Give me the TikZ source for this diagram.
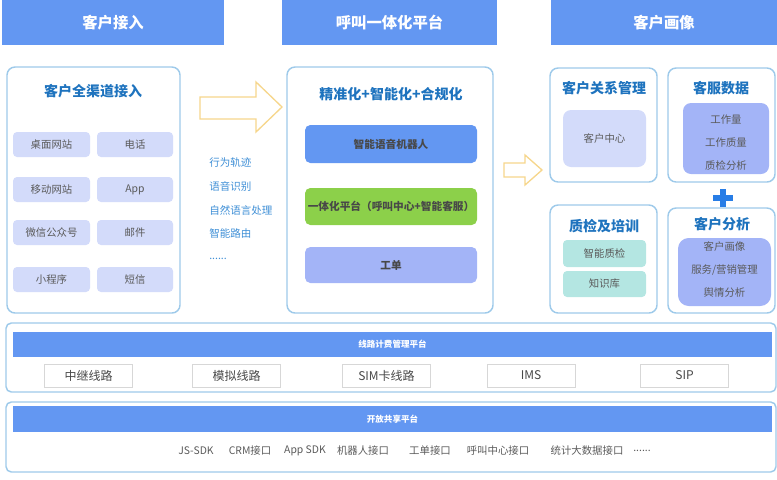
\documentclass[tikz,border=0pt]{standalone}
\usepackage{fontspec}
\setmainfont{Noto Sans CJK SC}
\usepackage{tikz}
\usetikzlibrary{positioning}
\definecolor{HdBlue}{RGB}{99,151,242}
\definecolor{LnBlue}{RGB}{158,202,234}
\definecolor{TtBlue}{RGB}{30,115,190}
\definecolor{LsBlue}{RGB}{63,143,214}
\definecolor{ChLav}{RGB}{211,219,250}
\definecolor{MdLav}{RGB}{163,180,247}
\definecolor{BrGreen}{RGB}{140,208,74}
\definecolor{ChTeal}{RGB}{180,230,226}
\definecolor{ArYel}{RGB}{246,214,140}
\definecolor{TxGray}{RGB}{90,90,90}
\definecolor{ChLine}{RGB}{215,215,215}
\definecolor{PlBlue}{RGB}{40,125,230}

\tikzset{
  wd/.style={minimum width=#1*0.75pt},
  ht/.style={minimum height=#1*0.75pt},
  hdr/.style={fill=HdBlue, text=white, inner sep=0pt,
              font=\fontsize{11.5}{13}\selectfont\bfseries},
  panel/.style={draw=LnBlue, line width=1.1pt, rounded corners=6pt, inner sep=0pt},
  ptitle/.style={text=TtBlue, font=\fontsize{10.5}{12}\selectfont\bfseries},
  chip/.style={rounded corners=3pt, text=TxGray, inner sep=0pt,
               font=\fontsize{7.8}{9}\selectfont},
  bar/.style={rounded corners=4pt, text=TxGray!80!black, inner sep=0pt,
              font=\fontsize{8}{9}\selectfont\bfseries},
  lsttxt/.style={text=LsBlue, anchor=west, inner sep=0pt,
                 font=\fontsize{7.9}{9}\selectfont},
  bandbar/.style={fill=HdBlue, text=white, inner sep=0pt,
                  font=\fontsize{6.4}{8}\selectfont\bfseries},
  linechip/.style={draw=ChLine, fill=white, text=TxGray!80!black, inner sep=0pt,
                   font=\fontsize{9}{10}\selectfont},
  apitxt/.style={text=TxGray, inner sep=0pt, font=\fontsize{7.8}{9}\selectfont},
  blockarrow/.style={draw=ArYel, line width=1pt, line join=miter}
}

\begin{document}
\begin{tikzpicture}[x=0.75pt, y=-0.75pt]
  \useasboundingbox (0,0) rectangle (777,479);

  % ---- Headers ----
  \node[hdr, wd=222, ht=45] (hIn) at (113,22.5) {客户接入};
  \node[hdr, wd=215, ht=45] (hCall) at (389.5,22.5) {呼叫一体化平台};
  \node[hdr, wd=226, ht=45] (hPort) at (664,22.5) {客户画像};

  % ---- Left: channels ----
  \node[panel, wd=173, ht=246] (chan) at (93.5,190) {};
  \node[ptitle] (chanT) at (93,91) {客户全渠道接入};
  \foreach \i/\y/\a/\b in {1/144.5/桌面网站/电话, 2/189.5/移动网站/App,
                           3/232.5/微信公众号/邮件, 4/279.5/小程序/短信} {
    \node[chip, fill=ChLav, wd=77, ht=25] (chA\i) at (51.5,\y) {\a};
    \node[chip, fill=ChLav, wd=76, ht=25] (chB\i) at (135,\y) {\b};
  }

  % big outline arrow
  \draw[blockarrow] (200,97) -- (256,97) -- (256,82) -- (282,107)
        -- (256,132) -- (256,119) -- (200,119) -- cycle;
  % capability list
  \foreach \i/\y/\t in {1/162/行为轨迹, 2/186/语音识别, 3/210/自然语言处理,
                        4/233/智能路由} {
    \node[lsttxt] (cap\i) at (209,\y) {\t};
  }
  \node[lsttxt] (cap5) at (209,259) {......};

  % ---- Middle: platform ----
  \node[panel, wd=206, ht=246] (plat) at (390,190) {};
  \node[ptitle] (platT) at (391,94) {精准化+智能化+合规化};
  \node[bar, fill=HdBlue, wd=172, ht=38] (robot) at (391,144) {智能语音机器人};
  \node[bar, fill=BrGreen, wd=172, ht=37] (unify) at (391,206.5)
        {一体化平台（呼叫中心+智能客服）};
  \node[bar, fill=MdLav, wd=172, ht=36] (ticket) at (391,265) {工单};

  % small outline arrow
  \draw[blockarrow] (504,163) -- (525,163) -- (525,155) -- (542,170)
        -- (525,185) -- (525,177) -- (504,177) -- cycle;

  % ---- Right: portrait ----
  \node[panel, wd=107, ht=114] (crm) at (603.5,125) {};
  \node[ptitle] (crmT) at (604,88) {客户关系管理};
  \node[chip, fill=ChLav, rounded corners=6pt, wd=83, ht=57] (crmC) at (604.5,138.5) {客户中心};

  \node[panel, wd=107, ht=114] (svc) at (721.5,125) {};
  \node[ptitle] (svcT) at (721,88) {客服数据};
  \node[chip, fill=MdLav, rounded corners=6pt, wd=86, ht=71] (svcC) at (726,138.5) {};
  \foreach \i/\y/\t in {1/120/工作量, 2/143/工作质量, 3/166/质检分析} {
    \node[apitxt] (svc\i) at (726,\y) {\t};
  }

  % plus sign
  \draw[PlBlue, line width=3.8pt] (713,198) -- (733,198) (723,189) -- (723,207);

  \node[panel, wd=107, ht=108] (qc) at (603.5,259) {};
  \node[ptitle] (qcT) at (604,226) {质检及培训};
  \node[chip, fill=ChTeal, wd=83, ht=27] (qc1) at (604.5,253.5) {智能质检};
  \node[chip, fill=ChTeal, wd=83, ht=26] (qc2) at (604.5,284) {知识库};

  \node[panel, wd=107, ht=105] (cust) at (721.5,260.5) {};
  \node[ptitle] (custT) at (722,224) {客户分析};
  \node[chip, fill=MdLav, rounded corners=8pt, wd=93, ht=68] (custC) at (724.5,272) {};
  \node[apitxt] (cust1) at (724.5,247) {客户画像};
  \node[apitxt] (cust2) at (724.5,270) {服务/营销管理};
  \node[apitxt] (cust3) at (724.5,293) {舆情分析};

  % ---- Bottom: lines ----
  \node[panel, rounded corners=4pt, wd=770, ht=69] (lines) at (391,357.5) {};
  \node[bandbar, wd=759, ht=25] (linesB) at (392.5,344.5) {线路计费管理平台};
  \foreach \i/\x/\t in {1/88.5/中继线路, 2/236.5/模拟线路, 3/386.5/SIM卡线路,
                        4/531/IMS, 5/684.5/SIP} {
    \node[linechip, wd=88, ht=23] (ln\i) at (\x,375.5) {\t};
  }

  % ---- Bottom: open platform ----
  \node[panel, rounded corners=4pt, wd=770, ht=70] (open) at (391,437) {};
  \node[bandbar, wd=759, ht=26] (openB) at (392.5,419) {开放共享平台};
  \foreach \i/\x/\t in {1/196/JS-SDK, 2/250/CRM接口, 3/305/App SDK, 4/363/机器人接口,
                        5/430/工单接口, 6/498/呼叫中心接口, 7/587/统计大数据接口} {
    \node[apitxt] (api\i) at (\x,451) {\t};
  }
  \node[apitxt] (api8) at (642,451) {......};
\end{tikzpicture}
\end{document}
